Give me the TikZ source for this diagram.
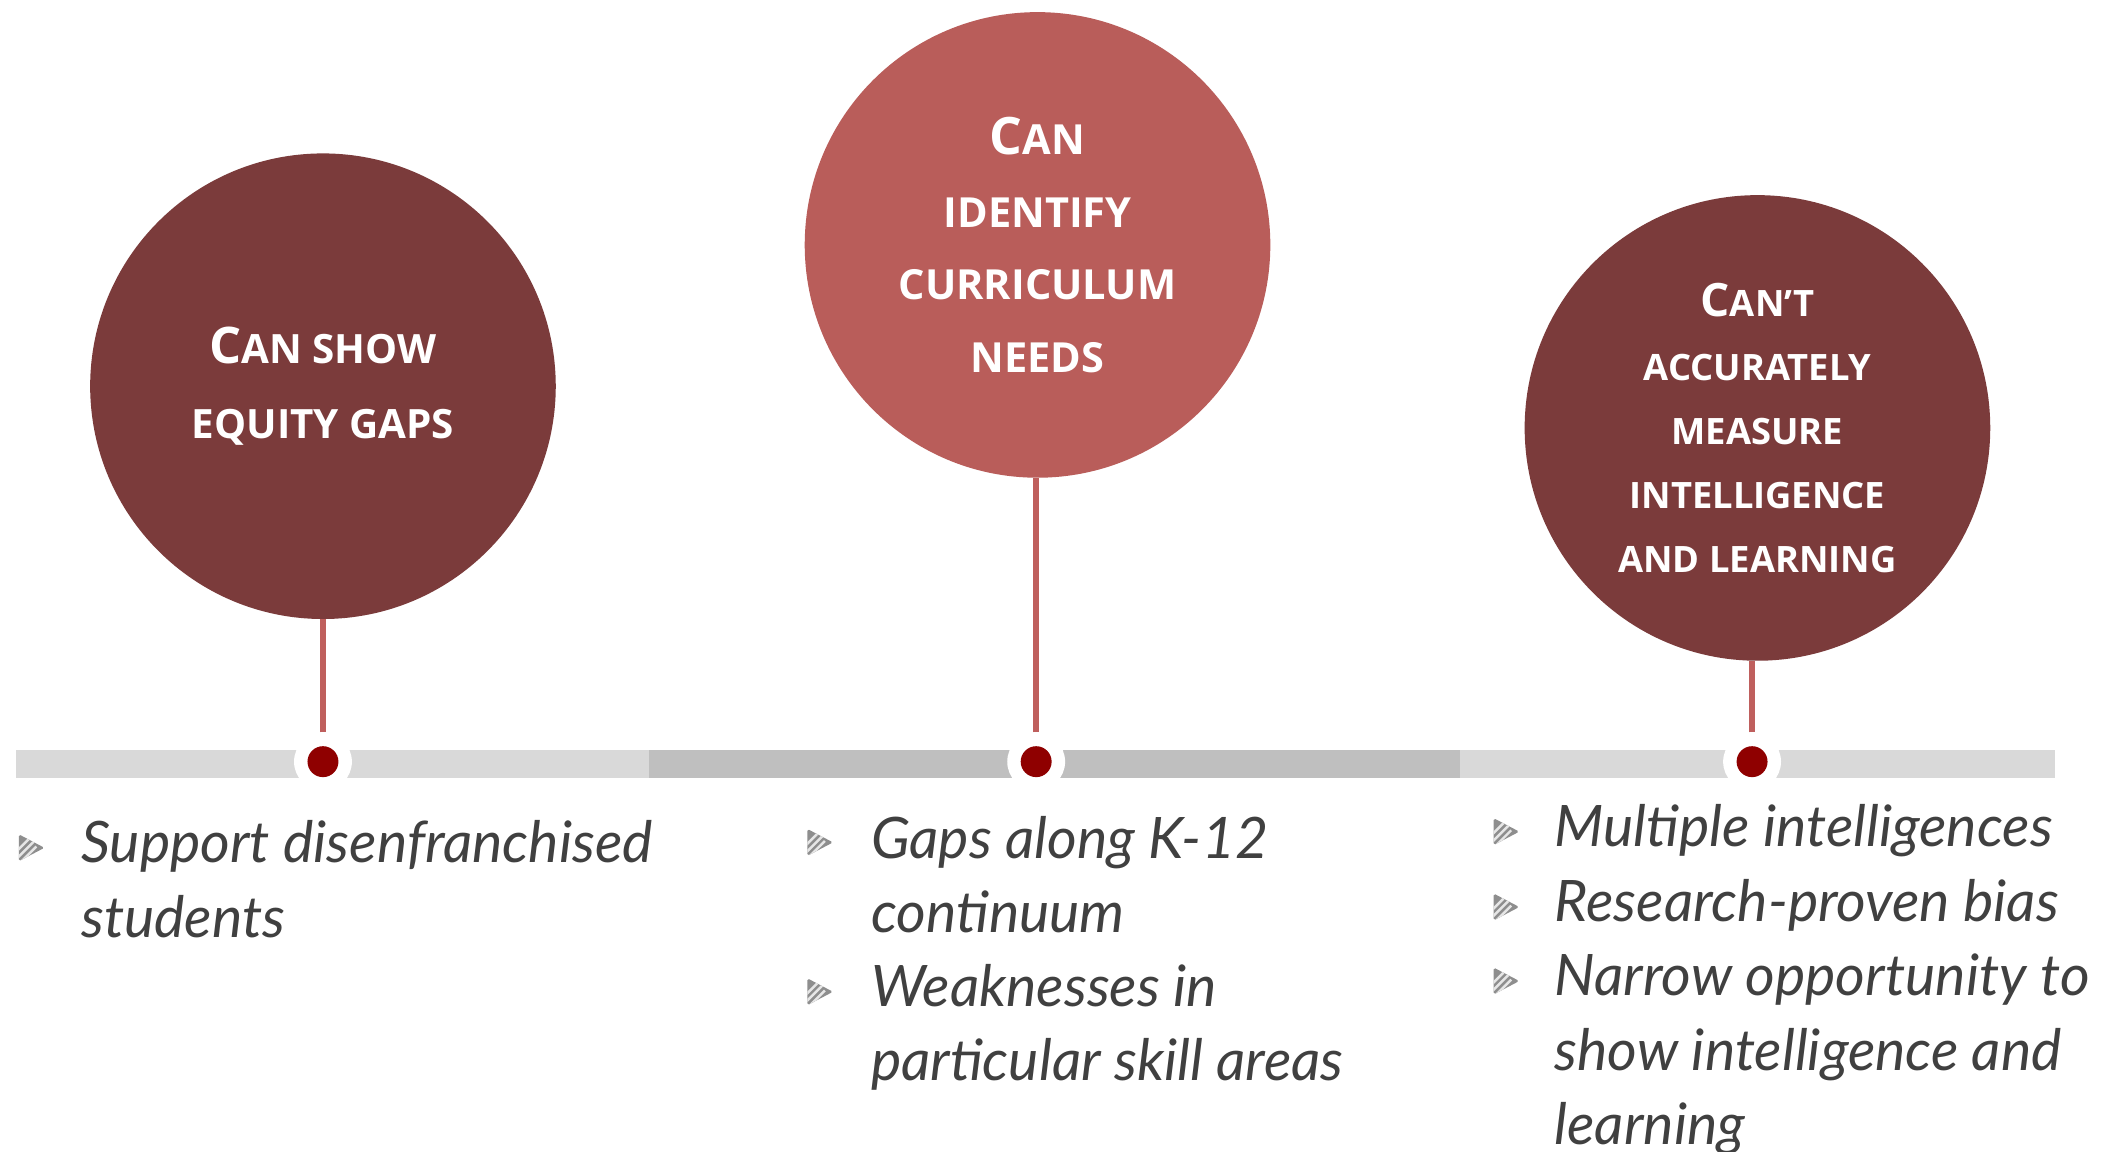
\documentclass[tikz,border=0pt]{standalone}
\usepackage{fontspec}
\setmainfont{Lato}
\newfontfamily\circfont{Open Sans}
\usetikzlibrary{shapes.geometric}
\definecolor{darkc}{HTML}{7B3B3B}
\definecolor{lightc}{HTML}{B95D5A}
\definecolor{stemred}{HTML}{BF5F5D}
\definecolor{dotred}{HTML}{8F0000}
\definecolor{barlight}{HTML}{D9D9D9}
\definecolor{bardark}{HTML}{BFBFBF}
\definecolor{textgray}{HTML}{404040}
\definecolor{markgray}{HTML}{8E8E8E}
\definecolor{stripegray}{HTML}{E6E6E6}
\newcommand\bigC[2]{{\fontsize{#1}{#1}\selectfont #2}}
\begin{document}
\begin{tikzpicture}[x=0.6pt,y=-0.6pt,
  bubble/.style={circle, minimum size=207.6pt, inner sep=0pt, text=white, align=center},
  bubtext1/.style={font=\circfont\bfseries\fontsize{18}{33.6}\selectfont},
  bubtext2/.style={font=\circfont\bfseries\fontsize{18.5}{32.4}\selectfont},
  bubtext3/.style={font=\circfont\bfseries\fontsize{16.2}{28.6}\selectfont},
  halo/.style={circle, fill=white, minimum size=25.8pt, inner sep=0pt},
  dot/.style={circle, fill=dotred, minimum size=13.8pt, inner sep=0pt},
  stem/.style={draw=stemred, line width=2.4pt},
  bullettext/.style={anchor=base west, align=left, text=textgray, inner sep=0pt,
    font=\itshape\fontsize{25.5}{33.2}\selectfont},
  marker/.pic={
    \begin{scope}
      \fill[markgray, rounded corners=0.8pt] (-9,-10) -- (10,0) -- (-9,10) -- cycle;
      \clip (-9,-10) -- (10,0) -- (-9,10) -- cycle;
      \foreach \d in {-3,2.5,8}
        \draw[stripegray, line width=1.1pt] (-13,\d+8) -- (4,\d-9);
    \end{scope}
  }]
\useasboundingbox (0,0) rectangle (1568,856);
\fill[white] (0,0) rectangle (1568,856);
% timeline bar
\fill[barlight] (12,557) rectangle (482,578);
\fill[bardark] (482,557) rectangle (1085,578);
\fill[barlight] (1085,557) rectangle (1527,578);
% circles
\node[bubble, bubtext1, fill=darkc] (c1) at (240,287) {\bigC{22.5}{C}AN SHOW\\EQUITY GAPS};
\node[bubble, bubtext2, fill=lightc] (c2) at (771,182) {\bigC{23}{C}AN\\IDENTIFY\\CURRICULUM\\NEEDS};
\node[bubble, bubtext3, fill=darkc] (c3) at (1306,318) {\bigC{20.5}{C}AN’T\\ACCURATELY\\MEASURE\\INTELLIGENCE\\AND LEARNING};
% dots
\node[halo] (h1) at (240,566) {};
\node[halo] (h2) at (770,566) {};
\node[halo] (h3) at (1302,566) {};
\node[dot] (d1) at (h1) {};
\node[dot] (d2) at (h2) {};
\node[dot] (d3) at (h3) {};
% stems
\draw[stem] (h1.north) -- (h1.north |- c1.south);
\draw[stem] (h2.north) -- (h2.north |- c2.south);
\draw[stem] (h3.north) -- (h3.north |- c3.south);
% bullets (base anchor = baseline of last line)
\pic at (23,630) {marker};
\node[bullettext] (t1) at (60,696.3) {Support disenfranchised\\students};
\pic at (609,626) {marker};
\node[bullettext] (t2a) at (647,693.3) {Gaps along K-12\\continuum};
\pic at (609,737) {marker};
\node[bullettext] (t2b) at (647,803.3) {Weaknesses in\\particular skill areas};
\pic at (1119,618) {marker};
\node[bullettext] (t3a) at (1155,629) {Multiple intelligences};
\pic at (1119,674) {marker};
\node[bullettext] (t3b) at (1155,685) {Research-proven bias};
\pic at (1119,729) {marker};
\node[bullettext] (t3c) at (1155,850.6) {Narrow opportunity to\\show intelligence and\\learning};
\end{tikzpicture}
\end{document}
